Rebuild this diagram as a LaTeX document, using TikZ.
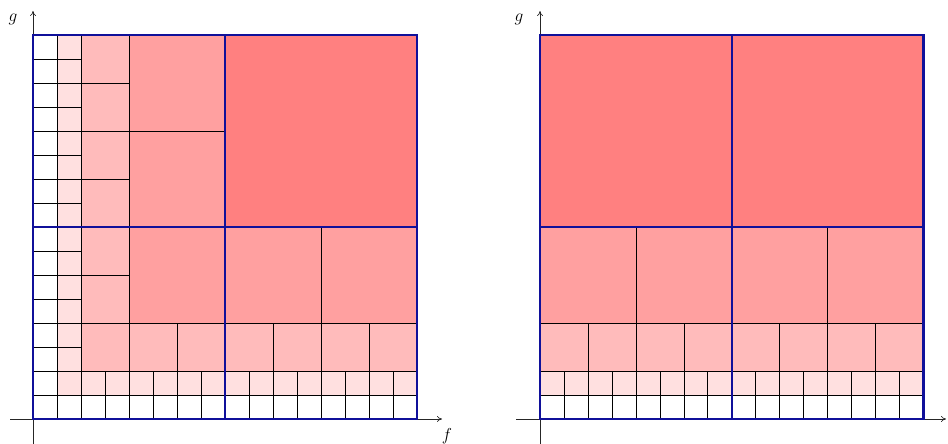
\documentclass[tikz,border=0pt]{standalone}
\usetikzlibrary{arrows.meta}
\definecolor{cA}{HTML}{FFE0E0}
\definecolor{cB}{HTML}{FFBBBB}
\definecolor{cC}{HTML}{FFA0A0}
\definecolor{cD}{HTML}{FF8080}
\definecolor{frame}{HTML}{10109A}
\begin{document}
\begin{tikzpicture}[x=1pt,y=1pt,
  axis/.style={draw=black!85,line width=0.7pt,-{To[length=5pt,width=6pt]}},
  cell/.style={draw=black,line width=0.6pt},
  bluebox/.style={draw=frame,line width=2.2pt},
  lab/.style={inner sep=0pt,font=\fontsize{19}{22}\selectfont}]
\useasboundingbox (0,0) rectangle (948,444);
% ---------- axes ----------
\draw[axis] (10,25) -- (442,25);
\draw[axis] (33,0) -- (33,433);
\draw[axis] (516,25) -- (946,25);
\draw[axis] (540,0) -- (540,433);
\node[lab] (gl) at (13,424.5) {$g$};
\node[lab] (fl) at (447,8) {$f$};
\node[lab] (gr) at (519,424.5) {$g$};
% ---------- left diagram ----------
\begin{scope}[shift={(33,25)},x=24pt,y=24pt]
  \foreach \i in {0,...,15} {\draw[cell,fill=white] (\i,0) rectangle ++(1,1);}
  \foreach \j in {1,...,15} {\draw[cell,fill=white] (0,\j) rectangle ++(1,1);}
  \foreach \i in {1,...,15} {\draw[cell,fill=cA] (\i,1) rectangle ++(1,1);}
  \foreach \j in {2,...,15} {\draw[cell,fill=cA] (1,\j) rectangle ++(1,1);}
  \foreach \i in {2,4,...,14} {\draw[cell,fill=cB] (\i,2) rectangle ++(2,2);}
  \foreach \j in {4,6,...,14} {\draw[cell,fill=cB] (2,\j) rectangle ++(2,2);}
  \foreach \i in {4,8,12} {\draw[cell,fill=cC] (\i,4) rectangle ++(4,4);}
  \foreach \j in {8,12} {\draw[cell,fill=cC] (4,\j) rectangle ++(4,4);}
  \draw[cell,fill=cD] (8,8) rectangle (16,16);
  \draw[bluebox] (0,0) rectangle (16,16);
  \draw[bluebox] (8,0) -- (8,16);
  \draw[bluebox] (0,8) -- (16,8);
\end{scope}
% ---------- right diagram ----------
\begin{scope}[shift={(540,25)},x=23.97pt,y=24pt]
  \foreach \i in {0,...,15} {\draw[cell,fill=white] (\i,0) rectangle ++(1,1);}
  \foreach \i in {0,...,15} {\draw[cell,fill=cA] (\i,1) rectangle ++(1,1);}
  \foreach \i in {0,2,...,14} {\draw[cell,fill=cB] (\i,2) rectangle ++(2,2);}
  \foreach \i in {0,4,8,12} {\draw[cell,fill=cC] (\i,4) rectangle ++(4,4);}
  \foreach \i in {0,8} {\draw[cell,fill=cD] (\i,8) rectangle ++(8,8);}
  \draw[bluebox] (0,0) rectangle (16,16);
  \draw[bluebox] (8,0) -- (8,16);
  \draw[bluebox] (0,8) -- (16,8);
\end{scope}
\end{tikzpicture}
\end{document}
